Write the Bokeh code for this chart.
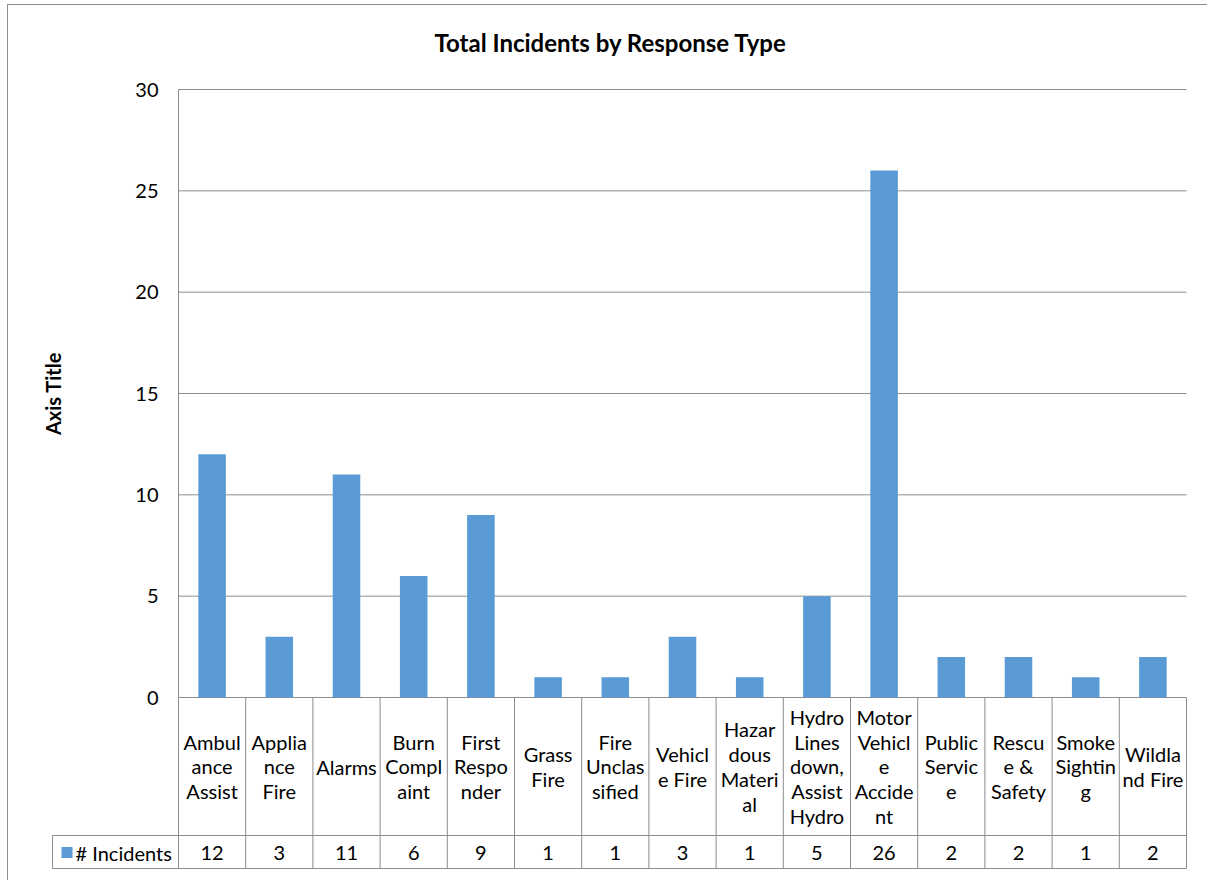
from bokeh.plotting import figure
from bokeh.models import Range1d, FixedTicker
from bokeh.core.properties import value
from bokeh.embed import file_html
from bokeh.resources import INLINE

# ---------------- data ----------------
categories = ["Ambulance Assist", "Appliance Fire", "Alarms", "Burn Complaint",
              "First Responder", "Grass Fire", "Fire Unclassified", "Vehicle Fire",
              "Hazardous Material", "Hydro Lines down, Assist Hydro",
              "Motor Vehicle Accident", "Public Service", "Rescue & Safety",
              "Smoke Sighting", "Wildland Fire"]
category_labels = ["Ambul\nance\nAssist", "Applia\nnce\nFire", "Alarms", "Burn\nCompl\naint",
                   "First\nRespo\nnder", "Grass\nFire", "Fire\nUnclas\nsified", "Vehicl\ne Fire",
                   "Hazar\ndous\nMateri\nal", "Hydro\nLines\ndown,\nAssist\nHydro",
                   "Motor\nVehicl\ne\nAccide\nnt", "Public\nServic\ne", "Rescu\ne &\nSafety",
                   "Smoke\nSightin\ng", "Wildla\nnd Fire"]
incidents = [12, 3, 11, 6, 9, 1, 1, 3, 1, 5, 26, 2, 2, 1, 2]
series_name = "# Incidents"
y_ticks = [0, 5, 10, 15, 20, 25, 30]
chart_title = "Total Incidents by Response Type"
y_title = "Axis Title"

# ---------------- style / layout ----------------
FONT = "Lato"
BAR = "#5B9BD5"
GRID = "#8c8c8c"
TXT = "#000000"
FS = "20px"

W, H = 1207, 880
FRAME_L, FRAME_R, FRAME_T, FRAME_B = 30, 1187, 70, 869
AXIS_PX, PLOT_R_PX = 178, 1186      # pixel columns of the value axis and of the plot right edge
TOP_PX, ZERO_PX = 89, 697           # pixel rows of the values 30 and 0
Y_MAX = 30
PPU_Y = (ZERO_PX - TOP_PX) / Y_MAX
n = len(categories)
PPU_X = (PLOT_R_PX - AXIS_PX) / n


def ypx(px):
    """pixel row -> value scale"""
    return -(px - ZERO_PX) / PPU_Y


def xpx(px):
    """pixel column -> category scale"""
    return (px - AXIS_PX) / PPU_X


xs = [i + 0.5 for i in range(n)]
bounds = list(range(n + 1))

p = figure(width=W, height=H,
           x_range=Range1d(xpx(FRAME_L), xpx(FRAME_R)),
           y_range=Range1d(ypx(FRAME_B), ypx(FRAME_T)),
           output_backend="svg", toolbar_location=None, x_axis_location=None,
           min_border_left=FRAME_L, min_border_right=W - FRAME_R,
           min_border_top=FRAME_T, min_border_bottom=H - FRAME_B)
p.outline_line_color = None
p.background_fill_color = None
p.border_fill_color = None
p.styles = {
    "background-color": "white",
    "background-image": "linear-gradient(#8c8c8c, #8c8c8c), linear-gradient(#8c8c8c, #8c8c8c)",
    "background-size": "1px 100%, 100% 1px",
    "background-position": "7px 4px, 7px 4px",
    "background-repeat": "no-repeat",
}

p.title.text = chart_title
p.title.text_font = FONT
p.title.text_font_size = "24px"
p.title.text_font_style = "bold"
p.title.text_color = TXT
p.title.align = "left"
p.title.offset = 434 - FRAME_L
p.title.standoff = 28

# value axis, drawn at category position 0
ax = p.yaxis[0]
ax.fixed_location = 0
ax.bounds = (0, Y_MAX)
ax.ticker = FixedTicker(ticks=y_ticks)
ax.major_tick_line_color = None
ax.minor_tick_line_color = None
ax.major_tick_out = 0
ax.major_tick_in = 0
ax.axis_line_color = GRID
ax.major_label_text_font = FONT
ax.major_label_text_font_size = FS
ax.major_label_text_color = TXT
ax.major_label_standoff = 20
ax.axis_label = y_title
ax.axis_label_text_font = FONT
ax.axis_label_text_font_size = FS
ax.axis_label_text_font_style = "bold"
ax.axis_label_text_color = TXT
ax.axis_label_standoff = 67

p.grid.visible = False
# horizontal gridlines across the plot area only
p.segment(x0=[0] * len(y_ticks), y0=y_ticks, x1=[n] * len(y_ticks), y1=y_ticks,
          line_color=GRID, line_width=1)

p.vbar(x=xs, top=incidents, width=0.41, color=BAR, line_color=None)

# ---------------- data table ----------------
head_bottom = ypx(835)
row_bottom = ypx(868)
row_mid = ypx(852)
head_mid = ypx(766)
key_left = xpx(52)

p.segment(x0=bounds, y0=[0] * len(bounds), x1=bounds, y1=[row_bottom] * len(bounds),
          line_color=GRID, line_width=1)
p.segment(x0=[key_left, key_left, key_left], y0=[head_bottom, row_bottom, head_bottom],
          x1=[n, n, key_left], y1=[head_bottom, row_bottom, row_bottom],
          line_color=GRID, line_width=1)

p.text(x=xs, y=[head_mid] * n, text=category_labels, text_font=value(FONT), text_font_size=FS,
       text_align="center", text_baseline="middle", text_line_height=1.04, text_color=TXT)
p.text(x=xs, y=[row_mid] * n, text=[str(v) for v in incidents], text_font=value(FONT),
       text_font_size=FS, text_align="center", text_baseline="middle", text_color=TXT)

# series key cell
p.scatter(x=[xpx(66.5)], y=[row_mid], marker="square", size=11, color=BAR, line_color=None)
p.text(x=[xpx(75)], y=[row_mid], text=[series_name], text_font=value(FONT), text_font_size=FS,
       text_align="left", text_baseline="middle", text_color=TXT)

with open("out.html", "w") as f:
    f.write(file_html(p, INLINE))
